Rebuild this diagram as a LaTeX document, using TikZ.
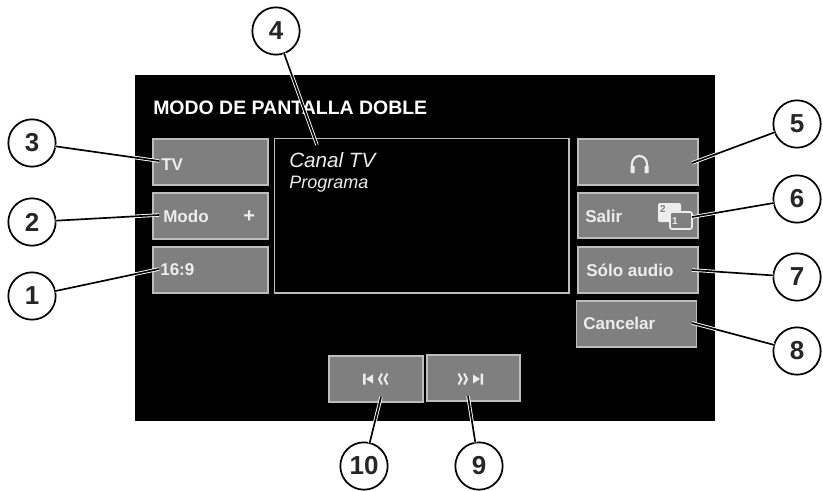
\documentclass[tikz,border=0pt]{standalone}
\usepackage{fontspec}
\setmainfont{Liberation Sans}
\definecolor{btnfill}{HTML}{7F7F7F}
\definecolor{btnedge}{HTML}{BDBDBD}
\definecolor{txt}{HTML}{EDEDED}
\tikzset{
  panel/.style={fill=black,draw=none,minimum width=435pt,minimum height=259.5pt,inner sep=0,outer sep=0},
  btn/.style 2 args={fill=btnfill,draw=btnedge,line width=1.1pt,minimum width=#1*0.75pt,minimum height=#2*0.75pt,inner sep=0,outer sep=0},
  screen/.style={fill=black,draw=btnedge,line width=1pt,minimum width=221pt,minimum height=116pt,inner sep=0,outer sep=0},
  num/.style={circle,draw=black,fill=white,line width=1.3pt,minimum size=35.5pt,inner sep=0,outer sep=0,font=\fontsize{19.5}{19.5}\selectfont\bfseries,text=black!85},
  blab/.style={font=\fontsize{12.8}{14}\selectfont\bfseries,text=txt,inner sep=0,anchor=west},
  titlelab/.style={font=\fontsize{14.6}{16}\selectfont\bfseries,text=white,inner sep=0,anchor=west},
  halo/.style={draw=white,line width=2.6pt},
  leader/.style={draw=black,line width=1.25pt},
  icon/.style={draw=txt,line width=1.3pt,fill=none},
  iconfill/.style={fill=txt,draw=none},
}
\newcommand{\callout}[2]{\draw[halo] (#1) -- (#2); \draw[leader] (#1) -- (#2);}
\begin{document}
\begin{tikzpicture}[x=0.75pt,y=-0.75pt]
\useasboundingbox (0,0) rectangle (823,490);
\node[panel] (pn) at (425,248) {};
\node[titlelab] (title) at (153,108) {MODO DE PANTALLA DOBLE};
\node[btn={115}{46}] (tv) at (210.5,162) {};
\node[btn={115}{46}] (modo) at (210.5,216) {};
\node[btn={115}{46}] (ratio) at (210.5,270) {};
\node[screen] (scr) at (421.5,215.5) {};
\node[btn={120}{46}] (phones) at (638,162) {};
\node[btn={120}{45}] (salir) at (638,215.5) {};
\node[btn={120}{46}] (audio) at (638,270) {};
\node[btn={120}{46}] (cancel) at (636.5,324) {};
\node[btn={94}{46}] (prev) at (376,379) {};
\node[btn={93}{46}] (next) at (473.5,378) {};
\node[blab] (ltv) at (161,164.5) {TV};
\node[blab] (lmodo) at (163,216) {Modo};
\node[blab,font=\fontsize{15}{15}\selectfont\bfseries] (lplus) at (243,217) {+};
\node[blab] (lratio) at (160,270) {16:9};
\node[blab] (lsalir) at (585,216) {Salir};
\node[blab] (laudio) at (586,270) {Sólo audio};
\node[blab] (lcancel) at (583,323) {Cancelar};
\node[inner sep=0,anchor=west,text=txt,font=\fontsize{15.5}{17}\selectfont\itshape] (lcanal) at (289,160) {Canal TV};
\node[inner sep=0,anchor=west,text=txt,font=\fontsize{13.5}{15}\selectfont\itshape] (lprog) at (289,184) {Programa};
% headphones
\draw[icon,line width=1.6pt] (632,170) -- (632,164) arc[start angle=180,end angle=0,x radius=7.5,y radius=-8] -- (647,170);
\fill[txt] (630.5,166) rectangle (634.5,173) (644.5,166) rectangle (648.5,173);
% window icon
\path[iconfill,rounded corners=1.5pt] (658,203) rectangle (681,222);
\node[inner sep=0,text=btnfill,font=\fontsize{7.5}{8}\selectfont\bfseries] (iconb) at (663,209) {2};
\draw[draw=txt,fill=btnfill,line width=1.3pt,rounded corners=1.5pt] (670,212) rectangle (692,229);
\node[inner sep=0,text=txt,font=\fontsize{7.5}{8}\selectfont\bfseries] (icona) at (675,221) {1};
% transport icons
\fill[txt] (363,373.5) rectangle (365.5,384.5) (366,379) -- (373,374.5) -- (373,383.5) -- cycle;
\draw[icon,line width=1.5pt] (382,373.5) -- (379,379) -- (382,384.5) (387.5,373.5) -- (384.5,379) -- (387.5,384.5);
\draw[icon,line width=1.5pt] (458.5,373.5) -- (461.5,379) -- (458.5,384.5) (464,373.5) -- (467,379) -- (464,384.5);
\fill[txt] (480.5,373.5) rectangle (483,384.5) (480,379) -- (473,374.5) -- (473,383.5) -- cycle;
% leaders
\coordinate (p1) at (159,269);
\coordinate (p2) at (159,215);
\coordinate (p3) at (159,161);
\coordinate (p4) at (317,145);
\coordinate (p5) at (692,163);
\coordinate (p6) at (692,217);
\coordinate (p7) at (692,270);
\coordinate (p8) at (692,323);
\coordinate (p9) at (468,396);
\coordinate (p10) at (381,397);
\node[num] (n1) at (32,296) {1};
\node[num] (n2) at (32,222) {2};
\node[num] (n3) at (32,143) {3};
\node[num] (n4) at (276,31) {4};
\node[num] (n5) at (797,124) {5};
\node[num] (n6) at (797,199) {6};
\node[num] (n7) at (797,277) {7};
\node[num] (n8) at (797,351) {8};
\node[num] (n9) at (479,466) {9};
\node[num] (n10) at (364,466) {10};
\callout{n1}{p1}
\callout{n2}{p2}
\callout{n3}{p3}
\callout{n4}{p4}
\callout{n5}{p5}
\callout{n6}{p6}
\callout{n7}{p7}
\callout{n8}{p8}
\callout{n9}{p9}
\callout{n10}{p10}
\end{tikzpicture}
\end{document}
